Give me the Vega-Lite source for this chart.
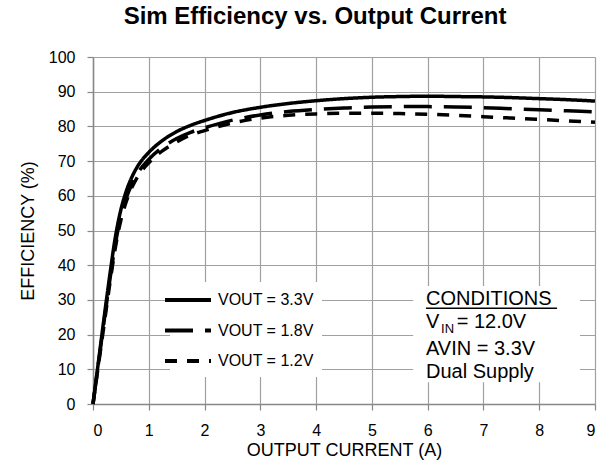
{
  "$schema": "https://vega.github.io/schema/vega-lite/v6.json",
  "width": 502,
  "height": 347,
  "autosize": {"type": "none"},
  "padding": {"left": 93, "top": 57, "right": 18, "bottom": 67},
  "config": {
    "view": {"stroke": null},
    "font": "Liberation Sans",
    "axis": {"grid": true, "gridColor": "#a0a0a0", "gridWidth": 1.2, "domainColor": "#888888", "domainWidth": 1.5, "tickColor": "#888888", "tickSize": 6, "tickWidth": 1.2, "labelFontSize": 16, "labelColor": "black", "labelFont": "Liberation Sans", "titleFontSize": 18, "titleFontWeight": "normal", "titleColor": "black", "titleFont": "Liberation Sans"},
    "axisX": {"labelPadding": 12, "titlePadding": 3},
    "axisY": {"labelPadding": 12, "titlePadding": 11}
  },
  "title": {"text": "Sim Efficiency vs. Output Current", "fontSize": 24, "fontWeight": "bold", "font": "Liberation Sans", "color": "black", "anchor": "middle", "dx": -29, "offset": 20},
  "layer": [
    {
      "data": {"values": [
        {"I":0,"E":0,"s":"VOUT = 3.3V"},{"I":0.1,"E":12.5,"s":"VOUT = 3.3V"},{"I":0.2,"E":25,"s":"VOUT = 3.3V"},{"I":0.3,"E":37,"s":"VOUT = 3.3V"},{"I":0.4,"E":48,"s":"VOUT = 3.3V"},{"I":0.5,"E":56,"s":"VOUT = 3.3V"},{"I":0.6,"E":61.5,"s":"VOUT = 3.3V"},{"I":0.7,"E":65.5,"s":"VOUT = 3.3V"},{"I":0.8,"E":68.5,"s":"VOUT = 3.3V"},{"I":1.0,"E":72.5,"s":"VOUT = 3.3V"},{"I":1.25,"E":76,"s":"VOUT = 3.3V"},{"I":1.5,"E":78.5,"s":"VOUT = 3.3V"},{"I":1.75,"E":80.3,"s":"VOUT = 3.3V"},{"I":2,"E":81.7,"s":"VOUT = 3.3V"},{"I":2.5,"E":84,"s":"VOUT = 3.3V"},{"I":3,"E":85.5,"s":"VOUT = 3.3V"},{"I":3.5,"E":86.6,"s":"VOUT = 3.3V"},{"I":4,"E":87.4,"s":"VOUT = 3.3V"},{"I":4.5,"E":88,"s":"VOUT = 3.3V"},{"I":5,"E":88.4,"s":"VOUT = 3.3V"},{"I":5.5,"E":88.6,"s":"VOUT = 3.3V"},{"I":6,"E":88.7,"s":"VOUT = 3.3V"},{"I":6.5,"E":88.6,"s":"VOUT = 3.3V"},{"I":7,"E":88.5,"s":"VOUT = 3.3V"},{"I":7.5,"E":88.3,"s":"VOUT = 3.3V"},{"I":8,"E":88.0,"s":"VOUT = 3.3V"},{"I":8.5,"E":87.7,"s":"VOUT = 3.3V"},{"I":9,"E":87.3,"s":"VOUT = 3.3V"},
        {"I":0,"E":0,"s":"VOUT = 1.8V"},{"I":0.1,"E":12,"s":"VOUT = 1.8V"},{"I":0.2,"E":24,"s":"VOUT = 1.8V"},{"I":0.3,"E":35.5,"s":"VOUT = 1.8V"},{"I":0.4,"E":46,"s":"VOUT = 1.8V"},{"I":0.5,"E":54,"s":"VOUT = 1.8V"},{"I":0.6,"E":59.5,"s":"VOUT = 1.8V"},{"I":0.7,"E":63.5,"s":"VOUT = 1.8V"},{"I":0.8,"E":66.5,"s":"VOUT = 1.8V"},{"I":1.0,"E":70.5,"s":"VOUT = 1.8V"},{"I":1.25,"E":74,"s":"VOUT = 1.8V"},{"I":1.5,"E":76.5,"s":"VOUT = 1.8V"},{"I":1.75,"E":78.3,"s":"VOUT = 1.8V"},{"I":2,"E":79.6,"s":"VOUT = 1.8V"},{"I":2.5,"E":81.8,"s":"VOUT = 1.8V"},{"I":3,"E":83.3,"s":"VOUT = 1.8V"},{"I":3.5,"E":84.3,"s":"VOUT = 1.8V"},{"I":4,"E":84.9,"s":"VOUT = 1.8V"},{"I":4.5,"E":85.3,"s":"VOUT = 1.8V"},{"I":5,"E":85.6,"s":"VOUT = 1.8V"},{"I":5.5,"E":85.7,"s":"VOUT = 1.8V"},{"I":6,"E":85.7,"s":"VOUT = 1.8V"},{"I":6.5,"E":85.6,"s":"VOUT = 1.8V"},{"I":7,"E":85.4,"s":"VOUT = 1.8V"},{"I":7.5,"E":85.1,"s":"VOUT = 1.8V"},{"I":8,"E":84.8,"s":"VOUT = 1.8V"},{"I":8.5,"E":84.5,"s":"VOUT = 1.8V"},{"I":9,"E":84.2,"s":"VOUT = 1.8V"},
        {"I":0,"E":0,"s":"VOUT = 1.2V"},{"I":0.1,"E":11.5,"s":"VOUT = 1.2V"},{"I":0.2,"E":23,"s":"VOUT = 1.2V"},{"I":0.3,"E":34.5,"s":"VOUT = 1.2V"},{"I":0.4,"E":45,"s":"VOUT = 1.2V"},{"I":0.5,"E":53,"s":"VOUT = 1.2V"},{"I":0.6,"E":58.5,"s":"VOUT = 1.2V"},{"I":0.7,"E":62.5,"s":"VOUT = 1.2V"},{"I":0.8,"E":65.5,"s":"VOUT = 1.2V"},{"I":1.0,"E":69.5,"s":"VOUT = 1.2V"},{"I":1.25,"E":73,"s":"VOUT = 1.2V"},{"I":1.5,"E":75.5,"s":"VOUT = 1.2V"},{"I":1.75,"E":77.5,"s":"VOUT = 1.2V"},{"I":2,"E":78.8,"s":"VOUT = 1.2V"},{"I":2.5,"E":81,"s":"VOUT = 1.2V"},{"I":3,"E":82.4,"s":"VOUT = 1.2V"},{"I":3.5,"E":83.2,"s":"VOUT = 1.2V"},{"I":4,"E":83.6,"s":"VOUT = 1.2V"},{"I":4.5,"E":83.8,"s":"VOUT = 1.2V"},{"I":5,"E":83.8,"s":"VOUT = 1.2V"},{"I":5.5,"E":83.7,"s":"VOUT = 1.2V"},{"I":6,"E":83.5,"s":"VOUT = 1.2V"},{"I":6.5,"E":83.2,"s":"VOUT = 1.2V"},{"I":7,"E":82.8,"s":"VOUT = 1.2V"},{"I":7.5,"E":82.4,"s":"VOUT = 1.2V"},{"I":8,"E":82.0,"s":"VOUT = 1.2V"},{"I":8.5,"E":81.6,"s":"VOUT = 1.2V"},{"I":9,"E":81.2,"s":"VOUT = 1.2V"}
      ]},
      "mark": {"type": "line", "color": "black", "strokeWidth": 3.5, "interpolate": "monotone", "strokeCap": "butt"},
      "encoding": {
        "x": {"field": "I", "type": "quantitative", "scale": {"domain": [0, 9], "nice": false},
          "axis": {"values": [0,1,2,3,4,5,6,7,8,9], "format": "d", "title": "OUTPUT CURRENT (A)"}},
        "y": {"field": "E", "type": "quantitative", "scale": {"domain": [0, 100], "nice": false},
          "axis": {"values": [0,10,20,30,40,50,60,70,80,90,100], "format": "d", "title": "EFFICIENCY (%)"}},
        "strokeDash": {"field": "s", "type": "nominal",
          "scale": {"domain": ["VOUT = 3.3V", "VOUT = 1.8V", "VOUT = 1.2V"], "range": [[1, 0], [28, 12], [12, 10]]},
          "legend": {"orient": "none", "legendX": 77, "legendY": 225, "title": null, "symbolType": "M-3,0H3", "symbolSize": 235, "symbolStrokeWidth": 4, "symbolStrokeColor": "black", "symbolFillColor": "transparent", "labelFontSize": 16, "labelColor": "black", "labelFont": "Liberation Sans", "labelOffset": 20, "rowPadding": 12.5, "padding": 8, "fillColor": "white", "strokeColor": null}}
      }
    },
    {
      "data": {"values": [{}]},
      "mark": {"type": "rect", "fill": "white"},
      "encoding": {
        "x": {"datum": 5.74, "type": "quantitative", "axis": {"values": [0,1,2,3,4,5,6,7,8,9], "format": "d", "title": "OUTPUT CURRENT (A)"}}, "x2": {"datum": 8.73},
        "y": {"datum": 6.3, "type": "quantitative", "axis": {"values": [0,10,20,30,40,50,60,70,80,90,100], "format": "d", "title": "EFFICIENCY (%)"}}, "y2": {"datum": 34}}
    },
    {
      "data": {"values": [{}]},
      "mark": {"type": "rule", "color": "black", "strokeWidth": 1.5},
      "encoding": {
        "x": {"datum": 5.97, "type": "quantitative", "axis": {"values": [0,1,2,3,4,5,6,7,8,9], "format": "d", "title": "OUTPUT CURRENT (A)"}}, "x2": {"datum": 8.32},
        "y": {"datum": 27.6, "type": "quantitative", "axis": {"values": [0,10,20,30,40,50,60,70,80,90,100], "format": "d", "title": "EFFICIENCY (%)"}}}
    },
    {
      "data": {"values": [{}]},
      "mark": {"type": "text", "text": "CONDITIONS", "fontSize": 20, "align": "left", "baseline": "alphabetic", "color": "black", "font": "Liberation Sans"},
      "encoding": {
        "x": {"datum": 5.97, "type": "quantitative", "axis": {"values": [0,1,2,3,4,5,6,7,8,9], "format": "d", "title": "OUTPUT CURRENT (A)"}},
        "y": {"datum": 28.5, "type": "quantitative", "axis": {"values": [0,10,20,30,40,50,60,70,80,90,100], "format": "d", "title": "EFFICIENCY (%)"}}}
    },
    {
      "data": {"values": [{}]},
      "mark": {"type": "text", "text": "V", "fontSize": 20, "align": "left", "baseline": "alphabetic", "color": "black", "font": "Liberation Sans"},
      "encoding": {
        "x": {"datum": 5.97, "type": "quantitative", "axis": {"values": [0,1,2,3,4,5,6,7,8,9], "format": "d", "title": "OUTPUT CURRENT (A)"}},
        "y": {"datum": 21.9, "type": "quantitative", "axis": {"values": [0,10,20,30,40,50,60,70,80,90,100], "format": "d", "title": "EFFICIENCY (%)"}}}
    },
    {
      "data": {"values": [{}]},
      "mark": {"type": "text", "text": "IN", "fontSize": 13, "align": "left", "baseline": "alphabetic", "color": "black", "font": "Liberation Sans"},
      "encoding": {
        "x": {"datum": 6.24, "type": "quantitative", "axis": {"values": [0,1,2,3,4,5,6,7,8,9], "format": "d", "title": "OUTPUT CURRENT (A)"}},
        "y": {"datum": 20.5, "type": "quantitative", "axis": {"values": [0,10,20,30,40,50,60,70,80,90,100], "format": "d", "title": "EFFICIENCY (%)"}}}
    },
    {
      "data": {"values": [{}]},
      "mark": {"type": "text", "text": "= 12.0V", "fontSize": 20, "align": "left", "baseline": "alphabetic", "color": "black", "font": "Liberation Sans"},
      "encoding": {
        "x": {"datum": 6.52, "type": "quantitative", "axis": {"values": [0,1,2,3,4,5,6,7,8,9], "format": "d", "title": "OUTPUT CURRENT (A)"}},
        "y": {"datum": 21.9, "type": "quantitative", "axis": {"values": [0,10,20,30,40,50,60,70,80,90,100], "format": "d", "title": "EFFICIENCY (%)"}}}
    },
    {
      "data": {"values": [{}]},
      "mark": {"type": "text", "text": "AVIN = 3.3V", "fontSize": 20, "align": "left", "baseline": "alphabetic", "color": "black", "font": "Liberation Sans"},
      "encoding": {
        "x": {"datum": 5.97, "type": "quantitative", "axis": {"values": [0,1,2,3,4,5,6,7,8,9], "format": "d", "title": "OUTPUT CURRENT (A)"}},
        "y": {"datum": 14.1, "type": "quantitative", "axis": {"values": [0,10,20,30,40,50,60,70,80,90,100], "format": "d", "title": "EFFICIENCY (%)"}}}
    },
    {
      "data": {"values": [{}]},
      "mark": {"type": "text", "text": "Dual Supply", "fontSize": 20, "align": "left", "baseline": "alphabetic", "color": "black", "font": "Liberation Sans"},
      "encoding": {
        "x": {"datum": 5.97, "type": "quantitative", "axis": {"values": [0,1,2,3,4,5,6,7,8,9], "format": "d", "title": "OUTPUT CURRENT (A)"}},
        "y": {"datum": 7.4, "type": "quantitative", "axis": {"values": [0,10,20,30,40,50,60,70,80,90,100], "format": "d", "title": "EFFICIENCY (%)"}}}
    }
  ]
}
